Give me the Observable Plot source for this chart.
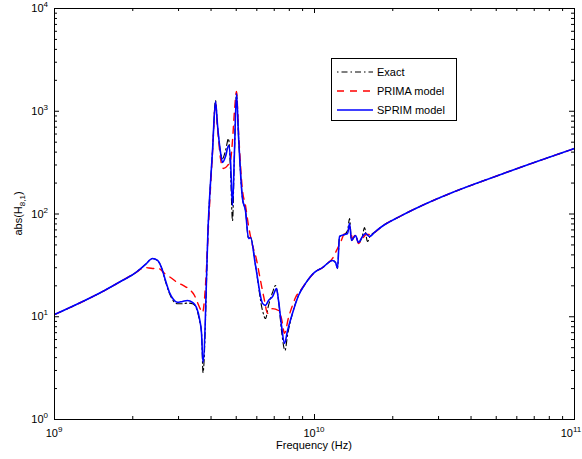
<!DOCTYPE html>
<html><head><meta charset="utf-8">
<script src="https://cdn.jsdelivr.net/npm/d3@7"></script>
<script src="https://cdn.jsdelivr.net/npm/@observablehq/plot@0.6"></script>
<style>body{margin:0;background:#fff} svg{display:block}</style>
</head><body><div id="chart"></div>
<script>
// ---- data (frequency in Hz, |H_{8,1}|) ----
const sprimFreq = [1.000e9,1.557e9,1.794e9,2.031e9,2.239e9,2.382e9,2.490e9,2.579e9,2.673e9,2.769e9,2.869e9,2.972e9,3.107e9,3.247e9,3.394e9,3.517e9,3.611e9,3.677e9,3.726e9,3.911e9,4.053e9,4.162e9,4.237e9,4.350e9,4.429e9,4.548e9,4.670e9,4.753e9,4.838e9,4.924e9,5.012e9,5.101e9,5.285e9,5.427e9,5.574e9,5.674e9,5.932e9,6.310e9,6.479e9,6.656e9,6.895e9,7.143e9,7.271e9,7.467e9,7.668e9,7.874e9,8.229e9,8.679e9,9.235e9,1.000e10,1.074e10,1.173e10,1.205e10,1.226e10,1.248e10,1.305e10,1.340e10,1.364e10,1.388e10,1.438e10,1.476e10,1.530e10,1.571e10,1.627e10,1.701e10,1.794e10,2.142e10,2.557e10,3.334e10,4.753e10,6.773e10,1.000e11];
const sprimVal = [10.5,18.0,22.0,26.4,32.3,36.9,35.3,30.1,22.5,17.2,14.7,13.8,14.1,14.4,13.8,12.3,9.6,6.9,3.6,90.4,415,1245,727,397,317,363,464,332,121,415,1489,581,141,108,57.8,59,31.5,13.5,12.9,14.4,15.7,18.8,14.4,8.2,5.5,7.3,10.8,16.1,21.1,27.0,30.1,35.3,33.7,29.5,60.4,63.1,64.6,80.8,55.2,61.8,52.8,60.4,64.6,60.4,66.1,73.9,95.4,119,159,223,308,434];

const exactFreq = [1.000e9,1.557e9,1.794e9,2.031e9,2.239e9,2.382e9,2.490e9,2.579e9,2.673e9,2.769e9,2.869e9,2.972e9,3.107e9,3.247e9,3.394e9,3.517e9,3.611e9,3.677e9,3.726e9,3.911e9,4.053e9,4.162e9,4.237e9,4.350e9,4.429e9,4.548e9,4.670e9,4.753e9,4.838e9,4.924e9,5.012e9,5.101e9,5.285e9,5.427e9,5.574e9,5.674e9,5.932e9,6.310e9,6.479e9,6.656e9,6.895e9,7.079e9,7.271e9,7.467e9,7.702e9,7.874e9,8.229e9,8.679e9,9.235e9,1.000e10,1.074e10,1.173e10,1.205e10,1.226e10,1.248e10,1.305e10,1.340e10,1.364e10,1.388e10,1.438e10,1.476e10,1.530e10,1.557e10,1.599e10,1.642e10,1.701e10,1.794e10,2.142e10,2.557e10,3.334e10,4.753e10,6.773e10,1.000e11];
const exactVal = [10.5,18.0,22.0,26.4,32.3,36.9,35.3,30.1,22.0,16.8,14.2,13.4,13.4,13.6,13.4,12.0,9.2,7.0,2.87,90,415,1270,727,400,347,415,543,265,86,415,1489,581,141,108,57.8,59,31.5,11.5,9.6,12.9,17.2,20.1,14.4,7.3,4.7,6.6,10.8,16.1,21.1,27.0,30.1,35.3,33.7,29.5,60.4,63.1,69,90.4,55.2,61.8,52.8,61.8,73.9,54,61.8,66.1,73.9,95.4,119,159,223,308,434];

const primaFreq = [1.000e9,1.557e9,1.794e9,2.031e9,2.239e9,2.382e9,2.512e9,2.649e9,2.794e9,2.972e9,3.135e9,3.306e9,3.455e9,3.548e9,3.643e9,3.709e9,3.808e9,3.911e9,4.053e9,4.162e9,4.237e9,4.350e9,4.467e9,4.628e9,4.753e9,4.838e9,4.924e9,5.012e9,5.101e9,5.285e9,5.427e9,5.574e9,5.775e9,5.932e9,6.199e9,6.422e9,6.595e9,6.895e9,7.271e9,7.467e9,7.668e9,7.943e9,8.229e9,8.453e9,8.836e9,9.235e9,1.000e10,1.074e10,1.132e10,1.173e10,1.205e10,1.226e10,1.259e10,1.305e10,1.340e10,1.364e10,1.401e10,1.438e10,1.476e10,1.530e10,1.585e10,1.642e10,1.701e10,1.794e10,2.142e10,2.557e10,3.334e10,4.753e10,6.773e10,1.000e11];
const primaVal = [10.5,18.0,22.0,26.4,30.1,29.5,29.5,26.4,24.1,21.5,20.1,18.4,16.1,13.8,11.8,11.0,20.1,77.3,397,1190,695,347,277,296,332,519,1016,1556,650,169,121,77,49.4,39.5,22.5,14.4,10.8,12.0,11.5,9.6,6.9,9.8,12.9,15.4,18.0,21.1,27.0,30.1,33.7,36.9,42.2,46.2,52.8,64.6,66,75.5,57.8,63.1,51.6,57.8,63.1,63.1,66.1,73.9,95.4,119,159,223,308,434];

const seriesNames  = ["Exact", "PRIMA model", "SPRIM model"];
const seriesColors = ["#000000", "#ff0000", "#0000ff"];
const seriesDash   = ["1.5,3,6,3", "7,6", "none"];
const seriesWidth  = [1.1, 1.4, 1.6];

const xMajor = [1e9, 1e10, 1e11];
const xExp   = ["9", "10", "11"];
const yMajor = [1, 10, 100, 1000, 10000];
const yExp   = ["0", "1", "2", "3", "4"];
const xLabel = "Frequency (Hz)";

// ---- tables ----
const toRows = (fs, vs) => fs.map((f, i) => ({f, v: vs[i]}));
const series = [toRows(exactFreq, exactVal), toRows(primaFreq, primaVal), toRows(sprimFreq, sprimVal)];
const minorOf = majors => majors.slice(0, -1).flatMap(d => [2,3,4,5,6,7,8,9].map(k => d * k));
const xMinor = minorOf(xMajor), yMinor = minorOf(yMajor);

const W = 582, H = 459, mL = 54, mR = 8, mT = 8, mB = 40;
const fw = W - mL - mR, fh = H - mT - mB;
const FONT = "'Liberation Sans', Arial, Helvetica, sans-serif";

const plot = Plot.plot({
  width: W, height: H,
  marginLeft: mL, marginRight: mR, marginTop: mT, marginBottom: mB,
  x: {type: "log", domain: [1e9, 1e11], axis: null},
  y: {type: "log", domain: [1, 1e4], axis: null},
  style: {background: "#fff", fontFamily: FONT},
  marks: [
    ...series.map((rows, i) => Plot.line(rows, {
      x: "f", y: "v", stroke: seriesColors[i], strokeWidth: seriesWidth[i],
      strokeDasharray: seriesDash[i], curve: "monotone-x", clip: true
    })),
    // inward ticks on all four sides
    Plot.tickX(xMajor, {x: d => d, insetTop: fh - 5, stroke: "black"}),
    Plot.tickX(xMajor, {x: d => d, insetBottom: fh - 5, stroke: "black"}),
    Plot.tickX(xMinor, {x: d => d, insetTop: fh - 3, stroke: "black"}),
    Plot.tickX(xMinor, {x: d => d, insetBottom: fh - 3, stroke: "black"}),
    Plot.tickY(yMajor, {y: d => d, insetRight: fw - 5, stroke: "black"}),
    Plot.tickY(yMajor, {y: d => d, insetLeft: fw - 5, stroke: "black"}),
    Plot.tickY(yMinor, {y: d => d, insetRight: fw - 3, stroke: "black"}),
    Plot.tickY(yMinor, {y: d => d, insetLeft: fw - 3, stroke: "black"}),
    Plot.frame({stroke: "black", strokeWidth: 1})
  ]
});
document.getElementById("chart").append(plot);

const sx = plot.scale("x"), sy = plot.scale("y");
const svg = d3.select(plot);
const g = svg.append("g").attr("font-family", FONT).attr("fill", "black");

// x tick labels (last one nudged left so it stays inside the window)
xMajor.forEach((t, i) => {
  const px = Math.min(sx.apply(t), W - 11);
  const tx = g.append("text").attr("x", px).attr("y", 437)
    .attr("text-anchor", "middle").attr("font-size", 11).text("10");
  tx.append("tspan").attr("dy", -5).attr("font-size", 8).text(xExp[i]);
});
// y tick labels
yMajor.forEach((t, i) => {
  const ty = g.append("text").attr("x", 48).attr("y", sy.apply(t) + 4)
    .attr("text-anchor", "end").attr("font-size", 11).text("10");
  ty.append("tspan").attr("dy", -5).attr("font-size", 8).text(yExp[i]);
});
// axis labels
g.append("text").attr("x", mL + fw / 2).attr("y", 449).attr("text-anchor", "middle")
  .attr("font-size", 11).text(xLabel);
const yl = g.append("text").attr("transform", `translate(22,${mT + fh / 2}) rotate(-90)`)
  .attr("text-anchor", "middle").attr("font-size", 11).text("abs(H");
yl.append("tspan").attr("dy", 3).attr("font-size", 8).text("8,1");
yl.append("tspan").attr("dy", -3).text(")");

// legend
const lg = svg.append("g").attr("font-family", FONT);
lg.append("rect").attr("x", 331.5).attr("y", 58.5).attr("width", 125).attr("height", 62)
  .attr("fill", "white").attr("stroke", "black").attr("stroke-width", 1);
[72, 91, 110].forEach((yy, i) => {
  lg.append("line").attr("x1", 337).attr("x2", 373).attr("y1", yy).attr("y2", yy)
    .attr("stroke", seriesColors[i]).attr("stroke-width", seriesWidth[i])
    .attr("stroke-dasharray", seriesDash[i]);
  lg.append("text").attr("x", 377).attr("y", yy + 4).attr("font-size", 11)
    .attr("text-anchor", "start").attr("fill", "black").text(seriesNames[i]);
});
</script>
</body></html>
